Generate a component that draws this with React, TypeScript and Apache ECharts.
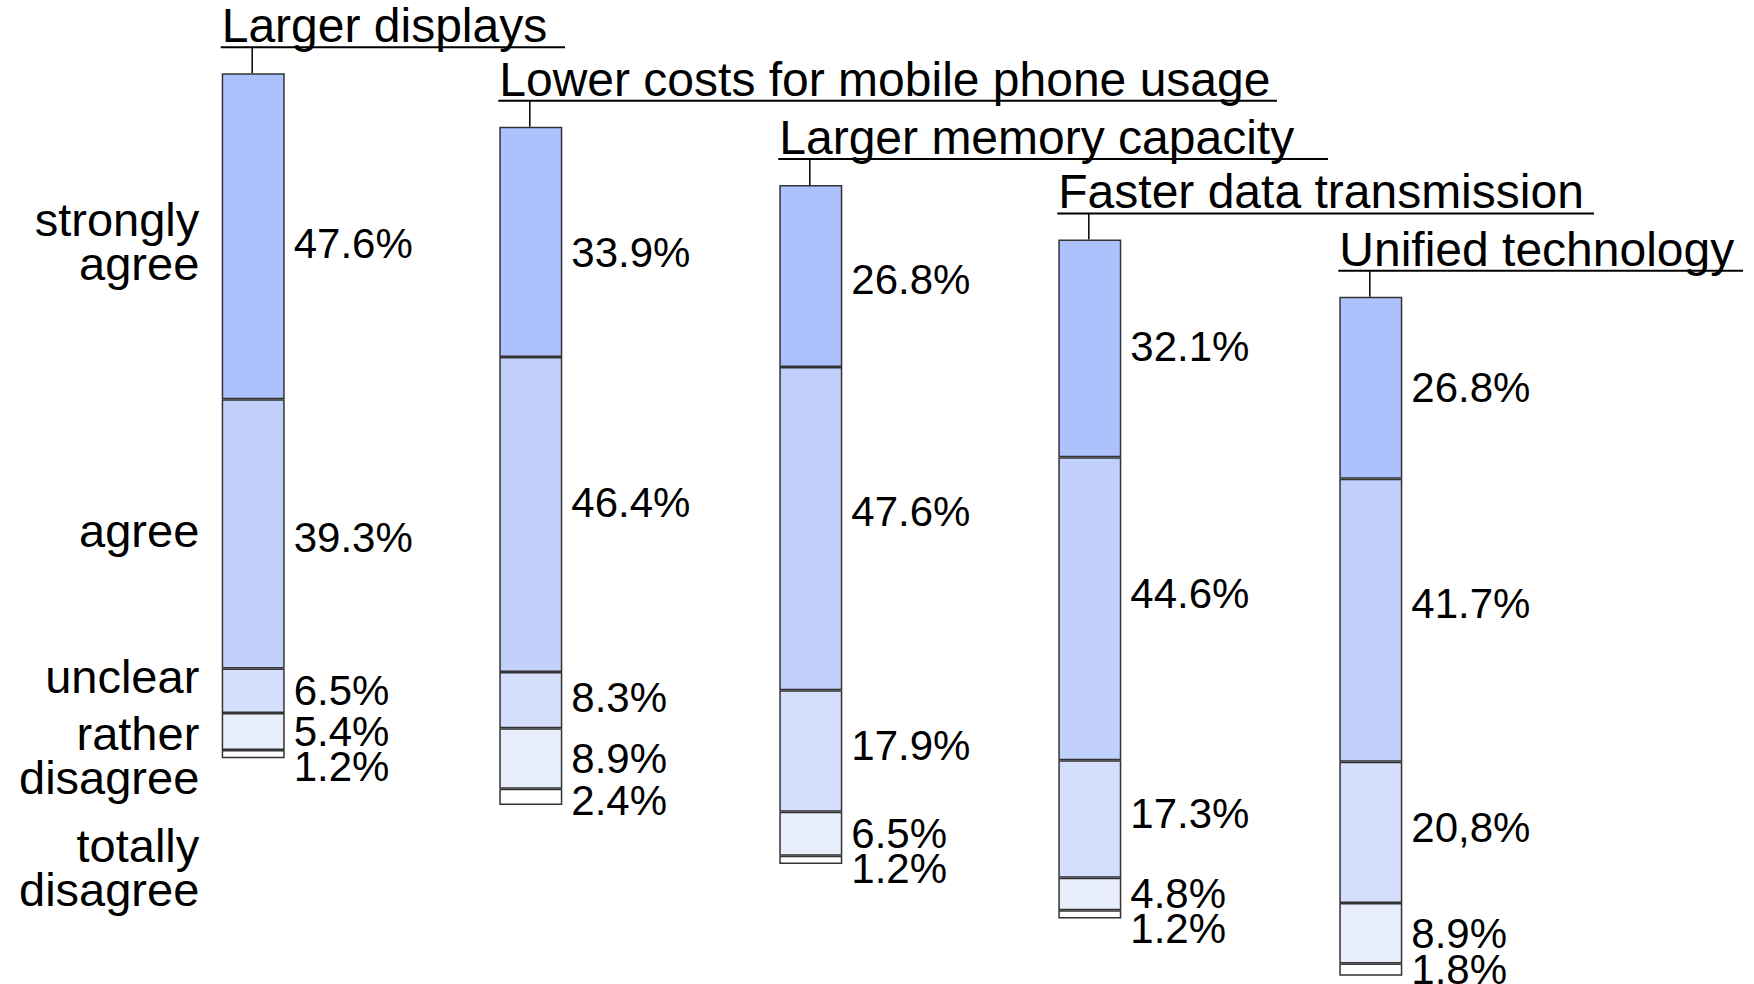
import React, { useEffect, useRef } from 'react';
import * as echarts from 'echarts';

// ---- data ----
const features = [
  'Larger displays',
  'Lower costs for mobile phone usage',
  'Larger memory capacity',
  'Faster data transmission',
  'Unified technology',
];
const levels = ['strongly agree', 'agree', 'unclear', 'rather disagree', 'totally disagree'];
const levelLabels = ['strongly\nagree', 'agree', 'unclear', 'rather\ndisagree', 'totally\ndisagree'];

const largerDisplays = [47.6, 39.3, 6.5, 5.4, 1.2];
const lowerCosts = [33.9, 46.4, 8.3, 8.9, 2.4];
const largerMemory = [26.8, 47.6, 17.9, 6.5, 1.2];
const fasterData = [32.1, 44.6, 17.3, 4.8, 1.2];
const unifiedTech = [26.8, 41.7, 20.8, 8.9, 1.8];
const unifiedTechLabels = ['26.8%', '41.7%', '20,8%', '8.9%', '1.8%'];

const allValues = [largerDisplays, lowerCosts, largerMemory, fasterData, unifiedTech];

// ---- layout / style ----
const colors = ['#adc1fd', '#c1d1fc', '#d5defc', '#e8eefc', '#ffffff'];
const barLeft = [221.7, 499.3, 779.3, 1058.3, 1339.3];
const barTop = [73.3, 126.7, 185, 239.4, 296.7];
const barHeight = [685, 679, 679, 679, 679];
const barW = 63;
const underlineEnd = [565, 1277, 1328, 1594, 1743];
const levelLabelY = [241.75, 530, 676.5, 755.25, 867];
// small manual vertical nudges of the value labels (px), as in the original layout
const labelNudge = [
  [7, 4, 0, 0, 0],
  [11, -12, -3, 0, 4],
  [4, -17, -5, 0, 0],
  [-2, -15, -5, 0, 0],
  [0, -17, -5, 0, 0],
];
const FONT = '"Liberation Sans", Arial, Helvetica, sans-serif';

function labelTexts(i: number): string[] {
  if (i === 4) return unifiedTechLabels;
  return allValues[i].map((v) => v.toFixed(1) + '%');
}

function labelOffsets(i: number): number[] {
  const k = barHeight[i] / 100;
  const vals = allValues[i];
  let cum = 0;
  let prev = -1e9;
  const out: number[] = [];
  for (let j = 0; j < vals.length; j++) {
    const mid = (cum + vals[j] / 2) * k;
    const y = Math.max(mid + labelNudge[i][j], prev + 35);
    out.push(y - mid);
    prev = y;
    cum += vals[j];
  }
  return out;
}

export default function App() {
  const ref = useRef<HTMLDivElement>(null);
  useEffect(() => {
    document.body.style.margin = '0';
    if (!ref.current) return;
    const chart = echarts.init(ref.current, undefined, { renderer: 'svg' });

    const grid = features.map((_, i) => ({
      left: barLeft[i],
      top: barTop[i],
      width: barW,
      height: barHeight[i],
      containLabel: false,
    }));
    const xAxis = features.map((f, i) => ({
      type: 'category',
      gridIndex: i,
      data: [f],
      show: false,
    }));
    const yAxis = features.map((_, i) => ({
      type: 'value',
      gridIndex: i,
      min: 0,
      max: 100,
      inverse: true,
      show: false,
    }));

    const series: any[] = [];
    features.forEach((f, i) => {
      const texts = labelTexts(i);
      const offs = labelOffsets(i);
      levels.forEach((lv, j) => {
        series.push({
          type: 'bar',
          name: lv,
          xAxisIndex: i,
          yAxisIndex: i,
          stack: 'feature' + i,
          barWidth: '100%',
          data: [allValues[i][j]],
          itemStyle: { color: colors[j], borderColor: '#333', borderWidth: 1.5 },
          label: {
            show: true,
            position: 'right',
            distance: 9,
            offset: [0, offs[j]],
            formatter: () => texts[j],
            fontSize: 42,
            fontFamily: FONT,
            color: '#000',
          },
          emphasis: { disabled: true },
        });
      });
    });

    const graphic: any[] = [];
    features.forEach((f, i) => {
      const uy = barTop[i] - 26;
      const cx = barLeft[i] + barW / 2;
      graphic.push({
        type: 'text',
        x: barLeft[i],
        y: uy - 4.5 - 17,
        style: {
          text: f,
          fontSize: 48,
          fontFamily: FONT,
          fill: '#000',
          align: 'left',
          verticalAlign: 'middle',
        },
        silent: true,
      });
      graphic.push({
        type: 'line',
        shape: { x1: barLeft[i] - 1, y1: uy, x2: underlineEnd[i], y2: uy },
        style: { stroke: '#000', lineWidth: 2 },
        silent: true,
      });
      graphic.push({
        type: 'line',
        shape: { x1: cx - 1, y1: uy, x2: cx - 1, y2: barTop[i] },
        style: { stroke: '#000', lineWidth: 1.5 },
        silent: true,
      });
    });
    levelLabels.forEach((t, j) => {
      graphic.push({
        type: 'text',
        x: 199.3,
        y: levelLabelY[j],
        style: {
          text: t,
          fontSize: 47,
          lineHeight: 44,
          fontFamily: FONT,
          fill: '#000',
          align: 'right',
          verticalAlign: 'middle',
        },
        silent: true,
      });
    });

    chart.setOption({
      animation: false,
      backgroundColor: '#fff',
      tooltip: { show: false },
      grid,
      xAxis,
      yAxis,
      series,
      graphic,
    });
    return () => chart.dispose();
  }, []);
  return (
    <div
      ref={ref}
      style={{ width: 1754, height: 984, background: '#fff' }}
    />
  );
}
